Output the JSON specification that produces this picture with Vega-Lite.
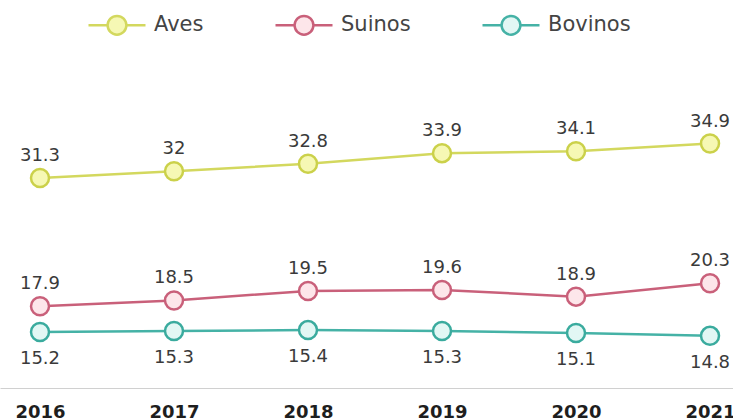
{
  "$schema": "https://vega.github.io/schema/vega-lite/v6.json",
  "width": 733,
  "height": 331,
  "autosize": {"type": "none"},
  "padding": {"left": 0, "top": 57, "right": 0, "bottom": 32},
  "background": "white",
  "config": {
    "view": {"stroke": null},
    "font": "DejaVu Sans"
  },
  "data": {
    "values": [
      {"ano": 2016, "serie": "Aves", "valor": 31.3},
      {"ano": 2017, "serie": "Aves", "valor": 32},
      {"ano": 2018, "serie": "Aves", "valor": 32.8},
      {"ano": 2019, "serie": "Aves", "valor": 33.9},
      {"ano": 2020, "serie": "Aves", "valor": 34.1},
      {"ano": 2021, "serie": "Aves", "valor": 34.9},
      {"ano": 2016, "serie": "Suinos", "valor": 17.9},
      {"ano": 2017, "serie": "Suinos", "valor": 18.5},
      {"ano": 2018, "serie": "Suinos", "valor": 19.5},
      {"ano": 2019, "serie": "Suinos", "valor": 19.6},
      {"ano": 2020, "serie": "Suinos", "valor": 18.9},
      {"ano": 2021, "serie": "Suinos", "valor": 20.3},
      {"ano": 2016, "serie": "Bovinos", "valor": 15.2},
      {"ano": 2017, "serie": "Bovinos", "valor": 15.3},
      {"ano": 2018, "serie": "Bovinos", "valor": 15.4},
      {"ano": 2019, "serie": "Bovinos", "valor": 15.3},
      {"ano": 2020, "serie": "Bovinos", "valor": 15.1},
      {"ano": 2021, "serie": "Bovinos", "valor": 14.8}
    ]
  },
  "encoding": {
    "x": {
      "field": "ano",
      "type": "quantitative",
      "scale": {"domain": [2015.7015, 2021.1716], "nice": false, "zero": false},
      "axis": {
        "title": null,
        "values": [2016, 2017, 2018, 2019, 2020, 2021],
        "format": "d",
        "ticks": false,
        "grid": false,
        "domainColor": "#d0d0d0",
        "domainWidth": 1,
        "labelFontSize": 18,
        "labelFontWeight": "bold",
        "labelColor": "#1e1e1e",
        "labelPadding": 15,
        "labelFlush": false
      }
    },
    "y": {
      "field": "valor",
      "type": "quantitative",
      "scale": {"domain": [9.35, 43.95], "nice": false, "zero": false},
      "axis": null
    }
  },
  "layer": [
    {
      "mark": {"type": "line", "strokeWidth": 2.5},
      "encoding": {
        "color": {
          "field": "serie",
          "type": "nominal",
          "scale": {"domain": ["Aves", "Suinos", "Bovinos"], "range": ["#d3d85e", "#c9607a", "#45b2a6"]},
          "legend": {
            "title": null,
            "orient": "none",
            "direction": "horizontal",
            "legendX": 87,
            "legendY": -62,
            "symbolType": "M-1,0L-0.33,0M0.33,0L1,0M0.33,0A0.33,0.33 0 1,1 -0.33,0A0.33,0.33 0 1,1 0.33,0Z",
            "symbolSize": 3249,
            "symbolStrokeWidth": 2.5,
            "labelFontSize": 21,
            "labelColor": "#444444",
            "labelOffset": 7,
            "columnPadding": 66,
            "encode": {
              "symbols": {"update": {"fill": {"scale": "fill", "field": "value"}}}
            }
          }
        }
      }
    },
    {
      "mark": {"type": "point", "filled": true, "shape": "circle", "size": 324, "strokeWidth": 2.5, "opacity": 1},
      "encoding": {
        "fill": {
          "field": "serie",
          "type": "nominal",
          "scale": {"domain": ["Aves", "Suinos", "Bovinos"], "range": ["#f6f8b4", "#fde6ea", "#e2f7f4"]},
          "legend": null
        },
        "stroke": {
          "field": "serie",
          "type": "nominal",
          "scale": {"domain": ["Aves", "Suinos", "Bovinos"], "range": ["#cbd14a", "#c9607a", "#3aab9e"]},
          "legend": null
        }
      }
    },
    {
      "transform": [{"filter": "datum.serie !== 'Bovinos'"}],
      "mark": {"type": "text", "dy": -22, "fontSize": 18, "color": "#3a3a3a"},
      "encoding": {"text": {"field": "valor", "type": "quantitative"}}
    },
    {
      "transform": [{"filter": "datum.serie === 'Bovinos'"}],
      "mark": {"type": "text", "dy": 27, "fontSize": 18, "color": "#3a3a3a"},
      "encoding": {"text": {"field": "valor", "type": "quantitative"}}
    }
  ]
}
